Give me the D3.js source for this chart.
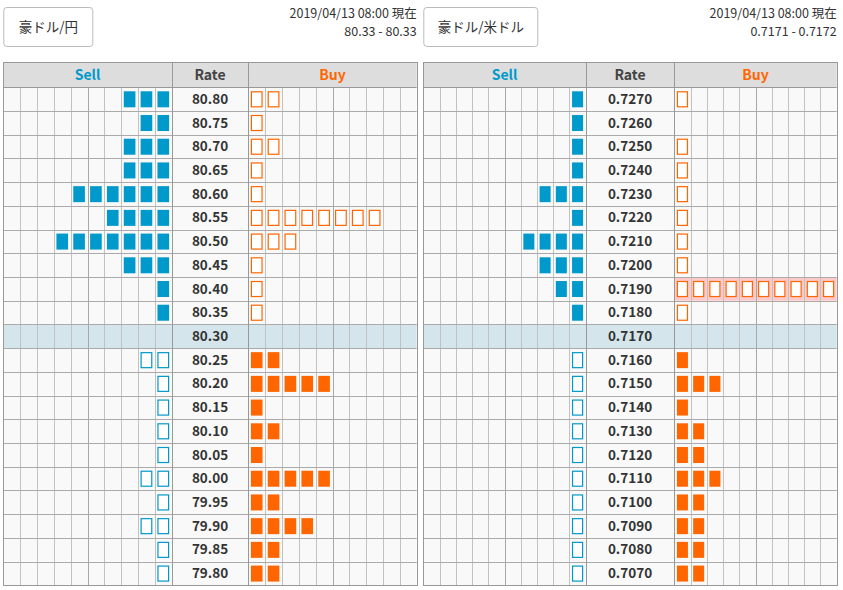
<!DOCTYPE html>
<html><head><meta charset="utf-8">
<script src="https://cdn.jsdelivr.net/npm/d3@7"></script>
<style>
body{margin:0;background:#fff;}
svg{display:block;font-family:"Noto Sans CJK JP","Noto Sans",sans-serif;}
</style>
</head><body><svg id="c" width="843" height="590"></svg>
<script>
// ---- data: AUD/JPY ----
const jpyTitle = "豪ドル/円";
const jpyTime = "2019/04/13 08:00 現在";
const jpyQuote = "80.33 - 80.33";
const jpyRates = ["80.80","80.75","80.70","80.65","80.60","80.55","80.50","80.45","80.40","80.35","80.30",
                  "80.25","80.20","80.15","80.10","80.05","80.00","79.95","79.90","79.85","79.80"];
const jpySell = [3,2,3,3,6,4,7,3,1,1,0,2,1,1,1,1,2,1,2,1,1];
const jpyBuy  = [2,1,2,1,1,8,3,1,1,1,0,2,5,1,2,1,5,2,4,2,2];
const jpyCurrent = "80.30";
const jpyHighlight = [];

// ---- data: AUD/USD ----
const usdTitle = "豪ドル/米ドル";
const usdTime = "2019/04/13 08:00 現在";
const usdQuote = "0.7171 - 0.7172";
const usdRates = ["0.7270","0.7260","0.7250","0.7240","0.7230","0.7220","0.7210","0.7200","0.7190","0.7180","0.7170",
                  "0.7160","0.7150","0.7140","0.7130","0.7120","0.7110","0.7100","0.7090","0.7080","0.7070"];
const usdSell = [1,1,1,1,3,1,4,3,2,1,0,1,1,1,1,1,1,1,1,1,1];
const usdBuy  = [1,0,1,1,1,1,1,1,10,1,0,1,3,1,2,2,3,2,2,2,2];
const usdCurrent = "0.7170";
const usdHighlight = ["0.7190"];

const headers = ["Sell","Rate","Buy"];
const nCols = 10;

const BLUE = "#0099cc", ORANGE = "#ff6600";
const svg = d3.select("#c");

function panel(cfg, L) {
  const g = svg.append("g");
  const xs0 = L.x0, xs1 = L.x0 + L.sellW, xr1 = xs1 + L.rateW, xb1 = xr1 + L.buyW;
  const headTop = 62.3, rowTop = 87.3, rowBottom = 585.3;
  const y = d3.scaleBand().domain(cfg.rates).range([rowTop, rowBottom]);
  const xSell = d3.scaleBand().domain(d3.range(nCols)).range([xs1, xs0]);
  const xBuy = d3.scaleBand().domain(d3.range(nCols)).range([xr1, xb1]);
  const curIdx = cfg.rates.indexOf(cfg.current);

  // button
  g.append("rect").attr("x", L.x0 + 0.5).attr("y", 7.5).attr("width", L.btnW).attr("height", 39)
    .attr("rx", 3).attr("fill", "#fff").attr("stroke", "#bbb");
  g.append("text").attr("x", L.x0 + 0.5 + L.btnW / 2).attr("y", 27).attr("dy", "0.35em")
    .attr("text-anchor", "middle").attr("font-size", 13.5).attr("fill", "#333").text(cfg.title);
  // time / quote
  g.append("text").attr("x", xb1).attr("y", 13.5).attr("dy", "0.35em").attr("text-anchor", "end")
    .attr("font-size", 12.5).attr("fill", "#333").text(cfg.time);
  g.append("text").attr("x", xb1).attr("y", 31.5).attr("dy", "0.35em").attr("text-anchor", "end")
    .attr("font-size", 12.5).attr("fill", "#333").text(cfg.quote);

  // row backgrounds
  g.selectAll(".rowbg").data(cfg.rates).join("rect")
    .attr("x", xs0).attr("y", d => y(d)).attr("width", xb1 - xs0).attr("height", y.bandwidth())
    .attr("fill", d => d === cfg.current ? "#d4e6eb" : "#f9f9f9");
  // highlighted buy cells
  g.selectAll(".hl").data(cfg.highlight).join("rect")
    .attr("x", xr1).attr("y", d => y(d)).attr("width", xb1 - xr1).attr("height", y.bandwidth())
    .attr("fill", "#ffc9c9");
  // header
  g.append("rect").attr("x", xs0).attr("y", headTop).attr("width", xb1 - xs0).attr("height", rowTop - headTop)
    .attr("fill", "#dddddd");

  // vertical grid lines inside sell/buy
  const vLines = [];
  d3.range(1, nCols).forEach(i => {
    vLines.push({x: xSell(i) + xSell.bandwidth(), dark: (nCols - i) % 5 === 0});
    vLines.push({x: xBuy(i), dark: i % 5 === 0});
  });
  g.selectAll(".vl").data(vLines).join("line")
    .attr("x1", d => Math.round(d.x) + 0.5).attr("x2", d => Math.round(d.x) + 0.5)
    .attr("y1", rowTop).attr("y2", rowBottom)
    .attr("stroke", d => d.dark ? "#a8a8a8" : "#c2c2c2");
  // horizontal row lines
  g.selectAll(".hl2").data(cfg.rates.slice(1)).join("line")
    .attr("x1", xs0).attr("x2", xb1)
    .attr("y1", d => Math.round(y(d)) + 0.5).attr("y2", d => Math.round(y(d)) + 0.5)
    .attr("stroke", "#aaa");
  // section lines
  [xs1, xr1].forEach(x => {
    g.append("line").attr("x1", Math.round(x) + 0.5).attr("x2", Math.round(x) + 0.5)
      .attr("y1", headTop).attr("y2", rowBottom).attr("stroke", "#999");
  });
  g.append("line").attr("x1", xs0).attr("x2", xb1)
    .attr("y1", Math.round(rowTop) + 0.5).attr("y2", Math.round(rowTop) + 0.5).attr("stroke", "#999");
  // outer border
  g.append("rect").attr("x", Math.round(xs0) + 0.5).attr("y", Math.round(headTop) + 0.5)
    .attr("width", Math.round(xb1) - Math.round(xs0)).attr("height", Math.round(rowBottom) - Math.round(headTop))
    .attr("fill", "none").attr("stroke", "#999");

  // header labels
  const hx = [(xs0 + xs1) / 2, (xs1 + xr1) / 2, (xr1 + xb1) / 2];
  const hc = [BLUE, "#444", ORANGE];
  g.selectAll(".ht").data(headers).join("text")
    .attr("x", (d, i) => hx[i]).attr("y", (headTop + rowTop) / 2).attr("dy", "0.35em")
    .attr("text-anchor", "middle").attr("font-size", 14).attr("font-weight", "bold")
    .attr("fill", (d, i) => hc[i]).text(d => d);

  // rate labels
  g.selectAll(".rt").data(cfg.rates).join("text")
    .attr("x", (xs1 + xr1) / 2).attr("y", d => y(d) + y.bandwidth() / 2).attr("dy", "0.35em")
    .attr("text-anchor", "middle").attr("font-size", 13.5).attr("font-weight", "bold")
    .attr("fill", "#333").text(d => d);

  // bars
  const cells = [];
  cfg.rates.forEach((r, ri) => {
    const above = ri < curIdx;
    for (let k = 0; k < cfg.sell[ri]; k++) cells.push({r, k, side: "sell", filled: above});
    for (let k = 0; k < cfg.buy[ri]; k++) cells.push({r, k, side: "buy", filled: !above});
  });
  const inset = 2.6, bw = xSell.bandwidth() - 2 * inset, bh = 16;
  g.selectAll(".bar").data(cells).join("rect")
    .attr("x", d => (d.side === "sell" ? xSell(d.k) : xBuy(d.k)) + inset + (d.filled ? 0 : 0.5))
    .attr("y", d => y(d.r) + 4 + (d.filled ? 0 : 0.5))
    .attr("width", d => bw - (d.filled ? 0 : 1))
    .attr("height", d => bh - (d.filled ? 0 : 1))
    .attr("fill", d => d.filled ? (d.side === "sell" ? BLUE : ORANGE) : "#fff")
    .attr("stroke", d => d.filled ? "none" : (d.side === "sell" ? BLUE : ORANGE))
    .attr("stroke-width", 1.2);
}

panel({title: jpyTitle, time: jpyTime, quote: jpyQuote, rates: jpyRates, sell: jpySell, buy: jpyBuy,
       current: jpyCurrent, highlight: jpyHighlight},
      {x0: 3.3, sellW: 168.4, rateW: 76.6, buyW: 168.4, btnW: 89});
panel({title: usdTitle, time: usdTime, quote: usdQuote, rates: usdRates, sell: usdSell, buy: usdBuy,
       current: usdCurrent, highlight: usdHighlight},
      {x0: 423.3, sellW: 162.4, rateW: 88.6, buyW: 162.4, btnW: 114});
</script>
</body></html>
